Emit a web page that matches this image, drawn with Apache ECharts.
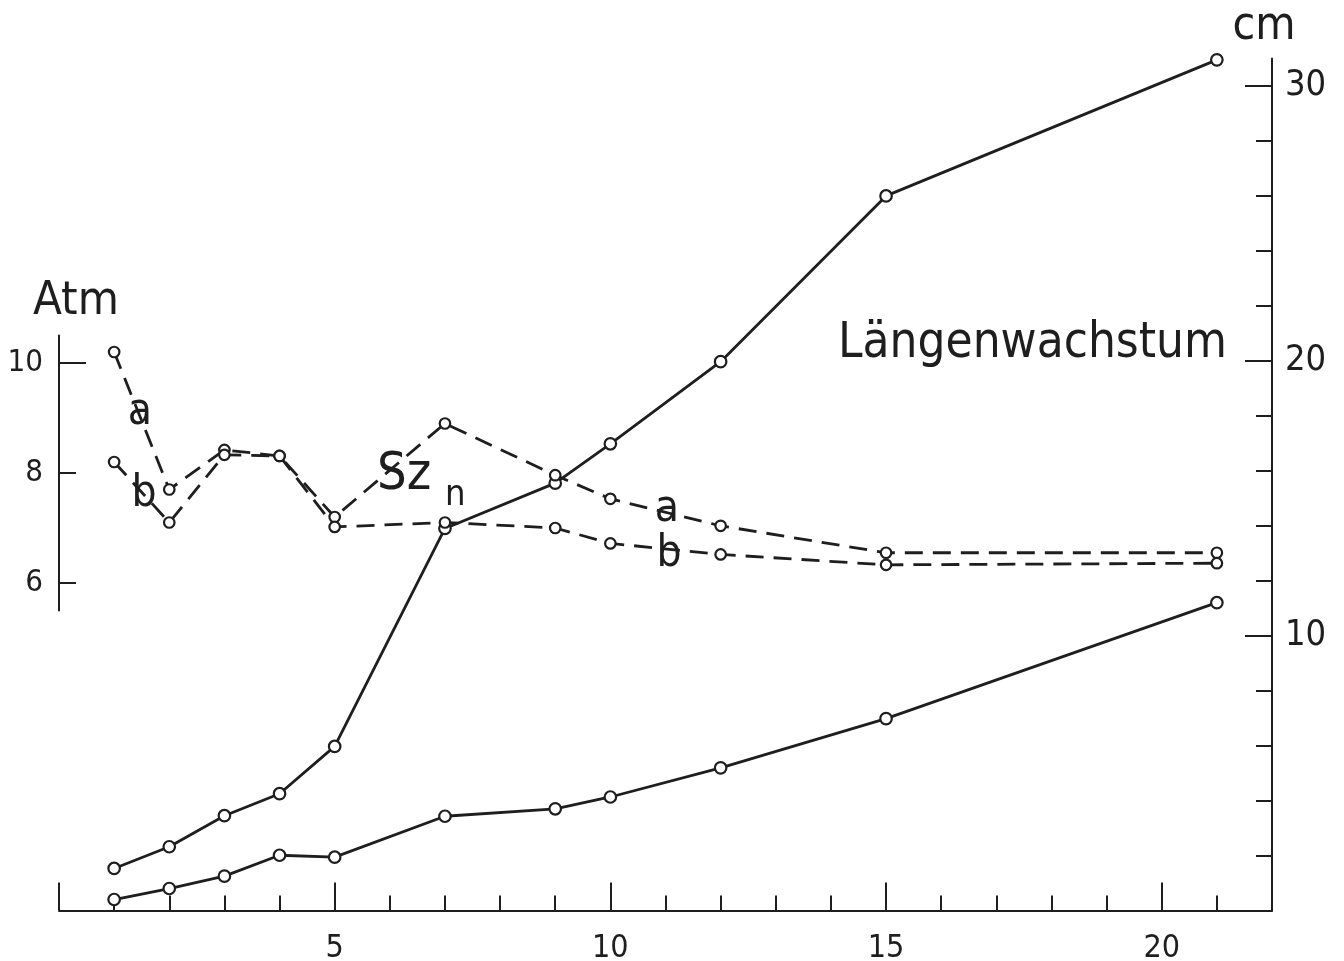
<!DOCTYPE html>
<html><head><meta charset="utf-8">
<script src="https://cdn.jsdelivr.net/npm/echarts@6/dist/echarts.min.js"></script>
<style>html,body{margin:0;padding:0;background:#fff}#c{width:1344px;height:961px}</style>
</head><body><div id="c"></div>
<script>
// ---- data ----
const days = [1, 2, 3, 4, 5, 7, 9, 10, 12, 15, 21];
const lengthUpper = [1.53, 2.32, 3.45, 4.25, 5.97, 13.9, 15.55, 16.98, 19.97, 26.0, 30.95];
const lengthLower = [0.4, 0.8, 1.25, 2.01, 1.94, 3.43, 3.70, 4.13, 5.19, 6.98, 11.2];
const atmA = [10.2, 7.7, 8.42, 8.31, 7.2, 8.9, 7.96, 7.53, 7.04, 6.55, 6.55];
const atmB = [8.2, 7.1, 8.33, 8.31, 7.02, 7.1, 7.0, 6.72, 6.52, 6.33, 6.36];
const xMajorTicks = [0, 5, 10, 15, 20];
const xMinorTicks = [1, 2, 3, 4, 6, 7, 8, 9, 11, 12, 13, 14, 16, 17, 18, 19, 21];
const xTickLabels = [5, 10, 15, 20];
const cmMajorTicks = [10, 20, 30];
const cmMinorTicks = [2, 4, 6, 8, 12, 14, 16, 18, 22, 24, 26, 28];
const atmMinorTicks = [6, 8];
const atmMajorTicks = [10];
const atmTickLabels = [6, 8, 10];

const INK = '#1e1e1e';
const FONT = "'DejaVu Sans Condensed', 'DejaVu Sans', sans-serif";
const tickLine = { color: INK, width: 2 };

const chart = echarts.init(document.getElementById('c'), null, { renderer: 'canvas' });

function pts(xs, ys) { return xs.map((x, i) => [x, ys[i]]); }
const solidSeries = (name, ys) => ({
  name, type: 'line', xAxisIndex: 0, yAxisIndex: 0, data: pts(days, ys),
  symbol: 'circle', symbolSize: 11.5, z: 3,
  lineStyle: { color: INK, width: 2.8 },
  itemStyle: { color: '#fff', borderColor: INK, borderWidth: 2.2 }
});
const dashedSeries = (name, ys) => ({
  name, type: 'line', xAxisIndex: 2, yAxisIndex: 2, data: pts(days, ys),
  symbol: 'circle', symbolSize: 10.5, z: 4,
  lineStyle: { color: INK, width: 2.8, type: [18, 10] },
  itemStyle: { color: '#fff', borderColor: INK, borderWidth: 2.2 }
});

const txt = (text, x, y, size, align) => ({
  type: 'text', x, y, silent: true,
  style: { text, fill: INK, font: `normal ${size}px ${FONT}`, align: align || 'center', verticalAlign: 'middle' }
});

chart.setOption({
  animation: false,
  backgroundColor: '#fff',
  grid: [
    { left: 59, right: 72, top: 58.5, bottom: 50.5, outerBoundsMode: 'none', containLabel: false },
    { left: 59, right: 72, top: 335.5, height: 275, outerBoundsMode: 'none', containLabel: false }
  ],
  xAxis: [
    { gridIndex: 0, type: 'value', min: 0, max: 22, position: 'bottom',
      axisLine: { show: true, onZero: false, lineStyle: tickLine },
      axisTick: { show: true, inside: true, length: 28, customValues: xMajorTicks, lineStyle: tickLine },
      axisLabel: { show: true, customValues: xTickLabels, margin: 22, fontSize: 32, color: INK, fontFamily: FONT },
      splitLine: { show: false } },
    { gridIndex: 0, type: 'value', min: 0, max: 22, position: 'bottom',
      axisLine: { show: false, onZero: false },
      axisTick: { show: true, inside: true, length: 15, customValues: xMinorTicks, lineStyle: tickLine },
      axisLabel: { show: false }, splitLine: { show: false } },
    { gridIndex: 1, type: 'value', min: 0, max: 22, show: false }
  ],
  yAxis: [
    { gridIndex: 0, type: 'value', min: 0, max: 31, position: 'right',
      axisLine: { show: true, onZero: false, lineStyle: tickLine },
      axisTick: { show: true, inside: true, length: 27, customValues: cmMajorTicks, lineStyle: tickLine },
      axisLabel: { show: true, customValues: cmMajorTicks, margin: 13, fontSize: 36, color: INK, fontFamily: FONT },
      splitLine: { show: false } },
    { gridIndex: 0, type: 'value', min: 0, max: 31, position: 'right',
      axisLine: { show: false, onZero: false },
      axisTick: { show: true, inside: true, length: 16, customValues: cmMinorTicks, lineStyle: tickLine },
      axisLabel: { show: false }, splitLine: { show: false } },
    { gridIndex: 1, type: 'value', min: 5.5, max: 10.5, position: 'left',
      axisLine: { show: true, onZero: false, lineStyle: tickLine },
      axisTick: { show: true, inside: true, length: 17, customValues: atmMinorTicks, lineStyle: tickLine },
      axisLabel: { show: true, customValues: atmTickLabels, margin: 16, fontSize: 31, color: INK, fontFamily: FONT },
      splitLine: { show: false } },
    { gridIndex: 1, type: 'value', min: 5.5, max: 10.5, position: 'left',
      axisLine: { show: false, onZero: false },
      axisTick: { show: true, inside: true, length: 27, customValues: atmMajorTicks, lineStyle: tickLine },
      axisLabel: { show: false }, splitLine: { show: false } }
  ],
  series: [
    solidSeries('Längenwachstum oben', lengthUpper),
    solidSeries('Längenwachstum unten', lengthLower),
    dashedSeries('Sz a', atmA),
    dashedSeries('Sz b', atmB)
  ],
  graphic: [
    txt('Atm', 33, 302, 47, 'left'),
    txt('cm', 1264, 27, 46),
    txt('Längenwachstum', 838, 344, 49, 'left'),
    txt('a', 140, 413, 44),
    txt('b', 144, 495, 44),
    txt('Sz', 377, 475, 52, 'left'),
    txt('n', 445, 496, 36, 'left'),
    txt('a', 667, 510, 44),
    txt('b', 669, 555, 44)
  ]
});
</script>
</body></html>
